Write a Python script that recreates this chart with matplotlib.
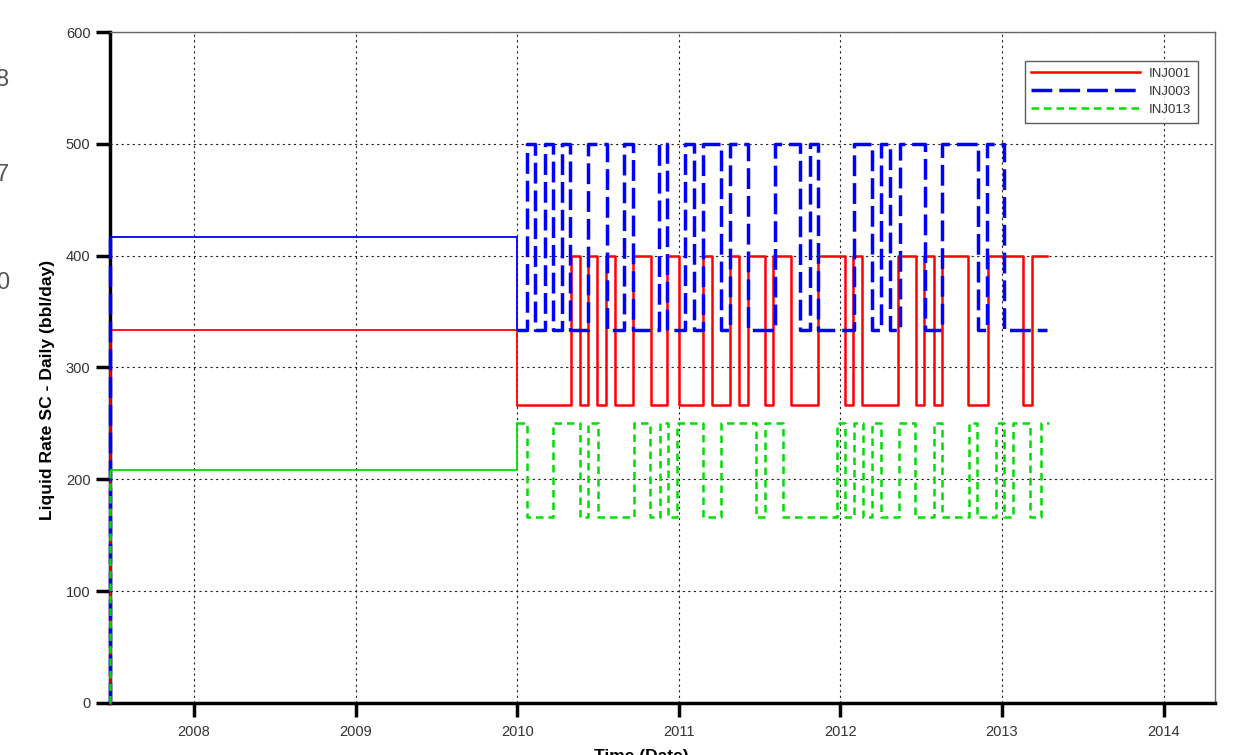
import matplotlib.pyplot as plt

plt.rcParams['font.family'] = ['Liberation Sans', 'DejaVu Sans']

# history period (constant rate), decimal years
hist_t = [2007.48, 2010.0]
hist_inj001 = 333.3
hist_inj003 = 416.7
hist_inj013 = 208.3

# forecast period: decimal years of each rate change, with rates (bbl/day)
t_inj001 = [2010.0, 2010.334, 2010.39, 2010.44, 2010.495, 2010.55, 2010.607,
            2010.718, 2010.83, 2010.929, 2011.003, 2011.152, 2011.207, 2011.319, 2011.375, 2011.43,
            2011.536, 2011.585, 2011.697, 2011.864, 2012.031, 2012.08, 2012.136, 2012.359, 2012.47,
            2012.52, 2012.576, 2012.63, 2012.79, 2012.91, 2013.127, 2013.183, 2013.28]
q_inj001 = [266.7, 400, 266.7, 400, 266.7, 400, 266.7,
            400, 266.7, 400, 266.7, 400, 266.7, 400, 266.7, 400,
            266.7, 400, 266.7, 400, 266.7, 400, 266.7, 400, 266.7,
            400, 266.7, 400, 266.7, 400, 266.7, 400, 400]

t_inj003 = [2010.0, 2010.06, 2010.111, 2010.169, 2010.221, 2010.277, 2010.328,
            2010.441, 2010.555, 2010.658, 2010.716, 2010.875, 2010.927, 2011.04, 2011.096, 2011.152,
            2011.261, 2011.319, 2011.429, 2011.593, 2011.752, 2011.81, 2011.862, 2012.082, 2012.196,
            2012.252, 2012.305, 2012.367, 2012.522, 2012.63, 2012.85, 2012.908, 2013.015, 2013.28]
q_inj003 = [333.3, 500, 333.3, 500, 333.3, 500, 333.3,
            500, 333.3, 500, 333.3, 500, 333.3, 500, 333.3, 500,
            333.3, 500, 333.3, 500, 333.3, 500, 333.3, 500, 333.3,
            500, 333.3, 500, 333.3, 500, 333.3, 500, 333.3, 333.3]

t_inj013 = [2010.0, 2010.06, 2010.221, 2010.39, 2010.441, 2010.497, 2010.72,
            2010.824, 2010.881, 2010.933, 2010.989, 2011.15, 2011.261, 2011.48, 2011.536, 2011.643,
            2011.98, 2012.031, 2012.082, 2012.138, 2012.196, 2012.248, 2012.361, 2012.464, 2012.578,
            2012.63, 2012.794, 2012.846, 2012.96, 2013.011, 2013.069, 2013.176, 2013.238, 2013.288]
q_inj013 = [250, 166.7, 250, 166.7, 250, 166.7, 250,
            166.7, 250, 166.7, 250, 166.7, 250, 166.7, 250, 166.7,
            250, 166.7, 250, 166.7, 250, 166.7, 250, 166.7, 250,
            166.7, 250, 166.7, 250, 166.7, 250, 166.7, 250, 250]

years = [2008, 2009, 2010, 2011, 2012, 2013, 2014]
y_ticks = [0, 100, 200, 300, 400, 500, 600]

fig = plt.figure(figsize=(12.54, 7.55), dpi=100)
ax = fig.add_axes([0.0877, 0.0689, 0.8815, 0.8887])

series = [
    ('INJ001', '#ff0000', hist_inj001, t_inj001, q_inj001, dict(lw=1.8)),
    ('INJ003', '#0000ff', hist_inj003, t_inj003, q_inj003, dict(lw=2.5, dashes=(6, 2))),
    ('INJ013', '#00dd00', hist_inj013, t_inj013, q_inj013, dict(lw=1.8, dashes=(3, 2))),
]
for name, c, h, t, q, st in series:
    # start-up jump at the left edge and forecast steps
    ax.plot([hist_t[0], hist_t[0]], [0, h], color=c, clip_on=False, zorder=3, **st)
    ax.step(t, q, where='post', color=c, label=name, zorder=3, **st)
    # history: thin solid line up to the forecast start
    ax.plot([hist_t[0], hist_t[1], hist_t[1]], [h, h, q[0]], color=c, lw=1.3, zorder=3)

ax.set_xlim(2007.48, 2014.32)
ax.set_ylim(0, 600)
ax.set_xticks(years)
ax.set_xticklabels([str(y) for y in years])
ax.set_yticks(y_ticks)
ax.grid(True, color='#222222', linestyle=(0, (2, 3)), lw=0.8)

for s in ['left', 'bottom']:
    ax.spines[s].set_linewidth(2.5)
    ax.spines[s].set_color('black')
for s in ['top', 'right']:
    ax.spines[s].set_linewidth(1)
    ax.spines[s].set_color('#666666')
ax.spines['left'].set_zorder(1)
ax.tick_params(axis='both', direction='out', length=10, width=2.5, color='black',
               labelsize=10.5, labelcolor='#333333')
ax.tick_params(axis='x', pad=6)
ax.tick_params(axis='y', pad=4)

ax.set_ylabel('Liquid Rate SC - Daily (bbl/day)', fontsize=12.6, fontweight='bold')
ax.yaxis.set_label_coords(-0.05, 0.466)
ax.set_xlabel('Time (Date)', fontsize=12.5, fontweight='bold')
ax.xaxis.set_label_coords(0.481, -0.068)

leg = ax.legend(loc='upper right', bbox_to_anchor=(0.984, 0.957), fontsize=9.5,
                frameon=True, fancybox=False, handlelength=8.2, labelspacing=0.45,
                borderpad=0.5, handletextpad=0.7, borderaxespad=0)
leg.get_frame().set_edgecolor('#333333')
leg.get_frame().set_linewidth(1)
for txt in leg.get_texts():
    txt.set_color('#333333')

# clipped digits from the neighbouring panel at the left edge
for ypos, s in [(0.894, '8'), (0.768, '7'), (0.625, '0')]:
    fig.text(0.007, ypos, s, fontsize=17, color='#555555', ha='right', va='center')

plt.savefig('out.png')
